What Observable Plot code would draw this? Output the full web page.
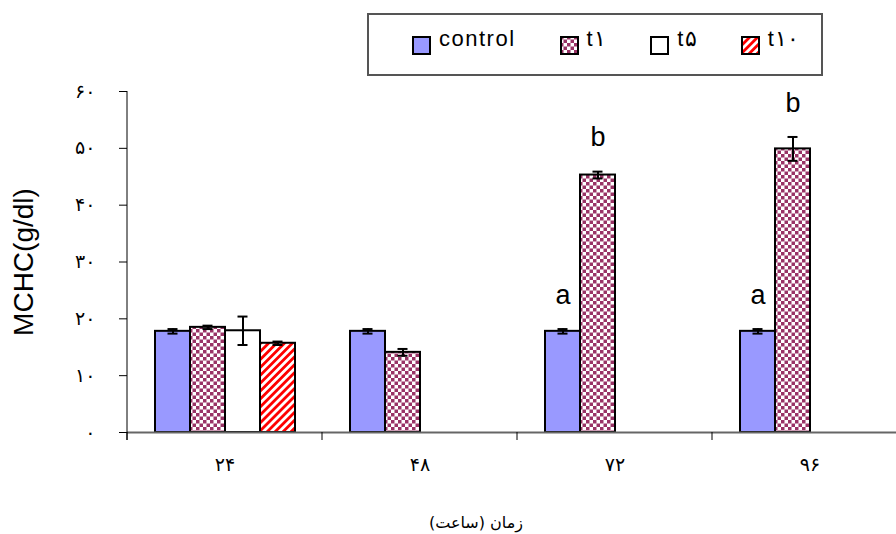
<!DOCTYPE html>
<html>
<head>
<meta charset="utf-8">
<script src="https://cdn.jsdelivr.net/npm/d3@7"></script>
<script src="https://cdn.jsdelivr.net/npm/@observablehq/plot@0.6"></script>
<style>
  html, body { margin: 0; padding: 0; background: #fff; }
  #wrap { position: relative; width: 896px; height: 534px; overflow: hidden; background: #fff; }
  #chart { position: absolute; left: 0; top: 0; }
  #legend { position: absolute; left: 367px; top: 13px; width: 456px; height: 63px; box-sizing: border-box;
            border: 2px solid #555; display: flex; align-items: flex-start; padding-left: 43px; }
  .item { display: flex; align-items: flex-start; margin-right: 44px; }
  .sw { width: 19px; height: 19px; margin-top: 21px; }
  .lab { font-family: "Liberation Sans", Arial, sans-serif; font-size: 22px; letter-spacing: 1.5px; line-height: 1; margin-top: 13px; margin-left: 8px; color: #000; }
  #ytitle { position: absolute; left: 24px; top: 262px; transform: translate(-50%, -50%) rotate(-90deg);
            font-family: "Liberation Sans", Arial, sans-serif; font-size: 28px; white-space: nowrap; color: #000; }
  #xtitle { position: absolute; left: 476px; top: 522px; transform: translate(-50%, -50%);
            font-family: "DejaVu Sans", sans-serif; font-size: 16px; white-space: nowrap; color: #000; direction: rtl; }
</style>
</head>
<body>
<svg width="0" height="0" style="position:absolute">
  <defs>
    <pattern id="check" width="7" height="7" patternUnits="userSpaceOnUse">
      <rect width="7" height="7" fill="#ffffff"/>
      <rect x="0" y="0" width="3.5" height="3.5" fill="#993366"/>
      <rect x="3.5" y="3.5" width="3.5" height="3.5" fill="#993366"/>
    </pattern>
    <pattern id="stripe" width="5.6" height="5.6" patternUnits="userSpaceOnUse" patternTransform="rotate(45)">
      <rect width="5.6" height="5.6" fill="#ffffff"/>
      <rect x="0" y="0" width="2.8" height="5.6" fill="#ff0000"/>
    </pattern>
  </defs>
</svg>
<div id="wrap">
  <div id="chart"></div>
  <div id="legend"></div>
  <div id="ytitle">MCHC(g/dl)</div>
  <div id="xtitle">زمان (ساعت)</div>
</div>
<script>
// ---- data ----
const times = ["24", "48", "72", "96"];
const timeLabels = ["۲۴", "۴۸", "۷۲", "۹۶"];
const series = ["control", "t1", "t5", "t10"];
const seriesLabels = ["control", "t۱", "t۵", "t۱۰"];
const controlMean = [17.8, 17.8, 17.8, 17.8];
const controlErr  = [0.4, 0.4, 0.4, 0.4];
const t1Mean = [18.5, 14.1, 45.3, 49.9];
const t1Err  = [0.3, 0.6, 0.6, 2.1];
const t5Mean = [17.9, null, null, null];
const t5Err  = [2.5, null, null, null];
const t10Mean = [15.7, null, null, null];
const t10Err  = [0.3, null, null, null];
const yTicks = [0, 10, 20, 30, 40, 50, 60];
const yTickLabels = ["۰", "۱۰", "۲۰", "۳۰", "۴۰", "۵۰", "۶۰"];
const letterTimes  = ["72", "72", "96", "96"];
const letterSeries = ["control", "t1", "control", "t1"];
const letterText   = ["a", "b", "a", "b"];

// ---- styles ----
const seriesFills = ["#9999ff", "url(#check)", "#ffffff", "url(#stripe)"];

// ---- build table ----
const means = [controlMean, t1Mean, t5Mean, t10Mean];
const errs = [controlErr, t1Err, t5Err, t10Err];
const rows = [];
series.forEach((s, si) => {
  times.forEach((t, ti) => {
    if (means[si][ti] != null) rows.push({time: t, series: s, mean: means[si][ti], err: errs[si][ti]});
  });
});
const letters = letterText.map((txt, i) => {
  const r = rows.find(d => d.time === letterTimes[i] && d.series === letterSeries[i]);
  return {time: letterTimes[i], series: letterSeries[i], text: txt, top: r.mean + r.err};
});

const chart = Plot.plot({
  width: 896,
  height: 534,
  marginLeft: 127,
  marginRight: 0,
  marginTop: 91,
  marginBottom: 102,
  style: {background: "transparent", fontFamily: "DejaVu Sans, sans-serif"},
  fx: {domain: times, range: [127, 907], padding: 0},
  x: {domain: series, paddingInner: 0, paddingOuter: 0.75, axis: null},
  y: {domain: [0, 60], axis: null},
  color: {domain: series, range: seriesFills},
  marks: [
    Plot.axisY({ticks: yTicks, tickFormat: d => yTickLabels[yTicks.indexOf(d)], tickSize: 8, tickPadding: 24,
                fontSize: 19, fontFamily: "DejaVu Sans, sans-serif", stroke: "#000", fill: "#000"}),
    Plot.axisFx({anchor: "bottom", tickSize: 0, tickPadding: 25, label: null,
                 tickFormat: d => timeLabels[times.indexOf(d)], fontSize: 19, fontFamily: "DejaVu Sans, sans-serif", fill: "#000"}),
    Plot.barY(rows, {fx: "time", x: "series", y: "mean", fill: "series", stroke: "#000", strokeWidth: 2}),
    Plot.ruleX(rows, {fx: "time", x: "series", y1: d => d.mean - d.err, y2: d => d.mean + d.err, stroke: "#000", strokeWidth: 2}),
    Plot.tickY(rows, {fx: "time", x: "series", y: d => d.mean + d.err, insetLeft: 12.5, insetRight: 12.5, stroke: "#000", strokeWidth: 2}),
    Plot.tickY(rows, {fx: "time", x: "series", y: d => d.mean - d.err, insetLeft: 12.5, insetRight: 12.5, stroke: "#000", strokeWidth: 2}),
    Plot.ruleY([0], {stroke: "#666", strokeWidth: 2}),
    Plot.text(letters, {fx: "time", x: "series", y: "top", text: "text", dy: -34, fontSize: 27,
                        fontFamily: "Liberation Sans, Arial, sans-serif", fill: "#000"})
  ]
});
document.getElementById("chart").appendChild(chart);

// axis lines and category boundary ticks from the library's scales
const fxS = chart.scale("fx");
const yS = chart.scale("y");
const svg = d3.select(chart);
const yb = yS.apply(0);
const g = svg.append("g").attr("stroke", "#000").attr("stroke-width", 1);
g.append("line").attr("x1", fxS.apply(times[0])).attr("x2", fxS.apply(times[0]))
  .attr("y1", yS.apply(60)).attr("y2", yb + 8);
times.forEach(t => {
  const x = fxS.apply(t);
  g.append("line").attr("x1", x).attr("x2", x).attr("y1", yb).attr("y2", yb + 8);
});

// legend
const legend = d3.select("#legend");
series.forEach((s, i) => {
  const item = legend.append("div").attr("class", "item");
  const sw = item.append("svg").attr("class", "sw").attr("width", 19).attr("height", 19);
  sw.append("rect").attr("x", 1).attr("y", 1).attr("width", 17).attr("height", 17)
    .attr("fill", seriesFills[i]).attr("stroke", "#000").attr("stroke-width", 2);
  item.append("div").attr("class", "lab").text(seriesLabels[i]);
});
</script>
</body>
</html>
